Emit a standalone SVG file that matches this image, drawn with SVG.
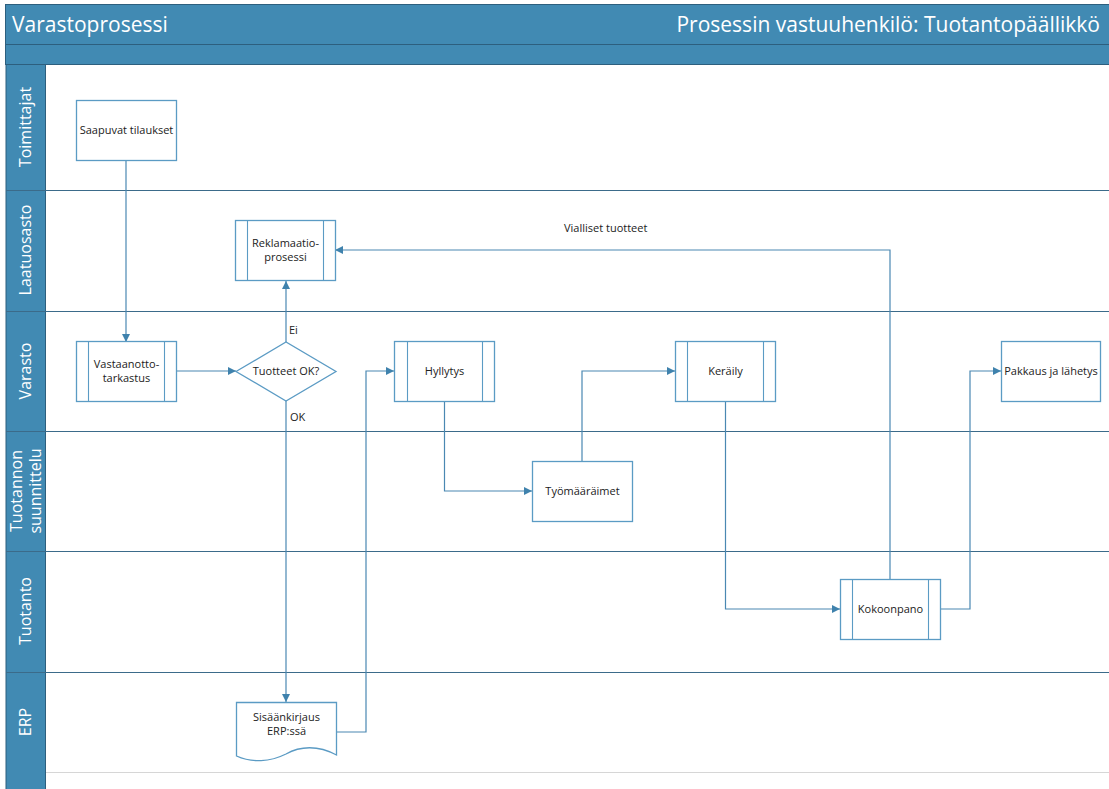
<svg xmlns="http://www.w3.org/2000/svg" width="1109" height="789" viewBox="0 0 1109 789">
  <style>
    .hdr { fill: #418ab3; stroke: #2d5f7e; stroke-width: 1; }
    .lane { stroke: #3b6b8a; stroke-width: 1.2; fill: none; }
    .hdrtxt { font-family: "Open Sans", "Noto Sans", sans-serif; font-size: 21px; fill: #ffffff; }
    .lanetxt { font-family: "Open Sans", "Noto Sans", sans-serif; font-size: 16px; fill: #ffffff; text-anchor: middle; }
    .box { fill: #ffffff; stroke: #5b9bc4; stroke-width: 1.3; }
    .bar { stroke: #5b9bc4; stroke-width: 1.1; fill: none; }
    .lbl { font-family: "Open Sans", "Noto Sans", sans-serif; font-size: 11px; fill: #222222; text-anchor: middle; }
    .note { font-family: "Open Sans", "Noto Sans", sans-serif; font-size: 11px; fill: #222222; }
    .conn { stroke: #4a88b2; stroke-width: 1.2; fill: none; marker-end: url(#arrow); }
    .plain { stroke: #4a88b2; stroke-width: 1.2; fill: none; }
  </style>
  <defs>
    <marker id="arrow" viewBox="0 0 10 10" refX="10" refY="5" markerWidth="8" markerHeight="8" markerUnits="userSpaceOnUse" orient="auto">
      <path d="M0,0 L10,5 L0,10 z" fill="#3f82ad"/>
    </marker>
  </defs>

  <rect width="1109" height="789" fill="#ffffff"/>

  <!-- Header bars -->
  <g id="header">
    <rect class="hdr" x="5.5" y="4.5" width="1104" height="40"/>
    <rect class="hdr" x="5.5" y="44.5" width="1104" height="20"/>
    <text class="hdrtxt" x="12" y="32">Varastoprosessi</text>
    <text class="hdrtxt" x="1100" y="32" text-anchor="end">Prosessin vastuuhenkilö: Tuotantopäällikkö</text>
  </g>

  <!-- Swimlanes -->
  <g id="lanes">
    <rect x="6" y="64.5" width="39.5" height="725" fill="#418ab3" stroke="#2d5f7e" stroke-width="1"/>
    <line class="lane" x1="6" y1="190.5" x2="1109" y2="190.5"/>
    <line class="lane" x1="6" y1="311.5" x2="1109" y2="311.5"/>
    <line class="lane" x1="6" y1="431.5" x2="1109" y2="431.5"/>
    <line class="lane" x1="6" y1="551.5" x2="1109" y2="551.5"/>
    <line class="lane" x1="6" y1="672.5" x2="1109" y2="672.5"/>
    <line x1="46" y1="772.5" x2="1109" y2="772.5" stroke="#d6d6d6" stroke-width="1.2"/>
    <text class="lanetxt" transform="translate(31,127) rotate(-90)">Toimittajat</text>
    <text class="lanetxt" transform="translate(31,250) rotate(-90)">Laatuosasto</text>
    <text class="lanetxt" transform="translate(31,371) rotate(-90)">Varasto</text>
    <text class="lanetxt" transform="translate(22,491) rotate(-90)">Tuotannon</text>
    <text class="lanetxt" transform="translate(41,491) rotate(-90)">suunnittelu</text>
    <text class="lanetxt" transform="translate(31,611) rotate(-90)">Tuotanto</text>
    <text class="lanetxt" transform="translate(31,722) rotate(-90)">ERP</text>
  </g>

  <!-- Connectors -->
  <g id="connectors">
    <path class="conn" d="M126,160 V342"/>
    <path class="conn" d="M176,371 H236"/>
    <path class="conn" d="M286,342 V281"/>
    <path class="conn" d="M286,401 V702"/>
    <path class="conn" d="M337,732 H366 V371 H394"/>
    <path class="conn" d="M444.5,401 V491 H532"/>
    <path class="conn" d="M582,462 V371 H675"/>
    <path class="conn" d="M725.5,401 V609 H840"/>
    <path class="conn" d="M890,579 V250 H335"/>
    <path class="conn" d="M940,609 H970 V371 H1001"/>
    <text class="note" x="289" y="334">Ei</text>
    <text class="note" x="290" y="421">OK</text>
    <text class="note" x="564" y="232">Vialliset tuotteet</text>
  </g>

  <!-- Nodes -->
  <g id="saapuvat">
    <rect class="box" x="76.5" y="100.5" width="100" height="60"/>
    <text class="lbl" x="126.5" y="134">Saapuvat tilaukset</text>
  </g>

  <g id="reklamaatio">
    <rect class="box" x="235.5" y="220.5" width="100" height="60"/>
    <line class="bar" x1="247.5" y1="220.5" x2="247.5" y2="280.5"/>
    <line class="bar" x1="323.5" y1="220.5" x2="323.5" y2="280.5"/>
    <text class="lbl" x="285.5" y="247">Reklamaatio-</text>
    <text class="lbl" x="285.5" y="261">prosessi</text>
  </g>

  <g id="vastaanotto">
    <rect class="box" x="76.5" y="341.5" width="100" height="60"/>
    <line class="bar" x1="88.5" y1="341.5" x2="88.5" y2="401.5"/>
    <line class="bar" x1="164.5" y1="341.5" x2="164.5" y2="401.5"/>
    <text class="lbl" x="126.5" y="368">Vastaanotto-</text>
    <text class="lbl" x="126.5" y="382">tarkastus</text>
  </g>

  <g id="tuotteet-ok">
    <path class="box" d="M236,371.5 L286,342 L336,371.5 L286,401 Z"/>
    <text class="lbl" x="286" y="375">Tuotteet OK?</text>
  </g>

  <g id="hyllytys">
    <rect class="box" x="394.5" y="341.5" width="100" height="60"/>
    <line class="bar" x1="407.5" y1="341.5" x2="407.5" y2="401.5"/>
    <line class="bar" x1="482.5" y1="341.5" x2="482.5" y2="401.5"/>
    <text class="lbl" x="444.5" y="375">Hyllytys</text>
  </g>

  <g id="keraily">
    <rect class="box" x="675.5" y="341.5" width="100" height="60"/>
    <line class="bar" x1="687.5" y1="341.5" x2="687.5" y2="401.5"/>
    <line class="bar" x1="763.5" y1="341.5" x2="763.5" y2="401.5"/>
    <text class="lbl" x="725.5" y="375">Keräily</text>
  </g>

  <g id="pakkaus">
    <rect class="box" x="1001.5" y="341.5" width="99" height="60"/>
    <text class="lbl" x="1051" y="375">Pakkaus ja lähetys</text>
  </g>

  <g id="tyomaaraimet">
    <rect class="box" x="532.5" y="461.5" width="100" height="60"/>
    <text class="lbl" x="582.5" y="495">Työmääräimet</text>
  </g>

  <g id="kokoonpano">
    <rect class="box" x="840.5" y="579.5" width="100" height="60"/>
    <line class="bar" x1="852.5" y1="579.5" x2="852.5" y2="639.5"/>
    <line class="bar" x1="928.5" y1="579.5" x2="928.5" y2="639.5"/>
    <text class="lbl" x="890.5" y="613">Kokoonpano</text>
  </g>

  <g id="sisaankirjaus">
    <path class="box" d="M236.5,702.5 H336.5 V755 C318,745 300,746 286,754 C270,762 252,763 236.5,756 Z"/>
    <text class="lbl" x="286.5" y="721">Sisäänkirjaus</text>
    <text class="lbl" x="286.5" y="735">ERP:ssä</text>
  </g>
</svg>
